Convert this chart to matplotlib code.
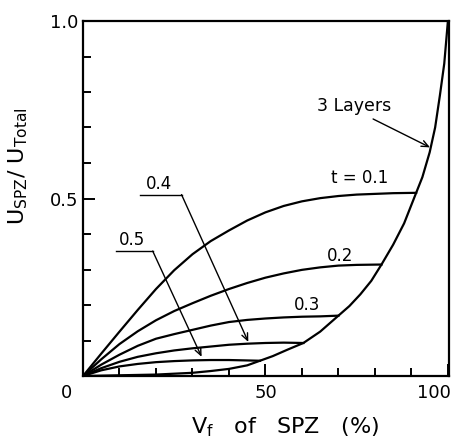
"""
Strain energy fraction stored in the SPZ layer vs its volume fraction,
for several layer thicknesses t, bounded by the 3-layer limit curve.
"""
import matplotlib.pyplot as plt
from matplotlib.ticker import MultipleLocator
from matplotlib.transforms import ScaledTranslation

# ── Data ──────────────────────────────────────────────────────────────────────
LAYER3_VF = [0, 10, 20, 30, 35, 40, 45, 48.5, 52, 56, 60.4, 65, 70, 73, 76,
             79, 81.8, 85, 88, 91.3, 93, 95, 96.5, 97.8, 99, 100]
LAYER3_U = [0, 0.002, 0.004, 0.009, 0.014, 0.020, 0.030, 0.043, 0.056, 0.074,
            0.093, 0.125, 0.170, 0.197, 0.230, 0.268, 0.314, 0.370, 0.430,
            0.516, 0.560, 0.630, 0.700, 0.790, 0.880, 1.0]

T_VALUES = [0.1, 0.2, 0.3, 0.4, 0.5]
T_VF = {
    0.1: [0, 5, 10, 15, 20, 25, 30, 35, 40, 45, 50, 55, 60, 65, 70, 75, 80,
          85, 91.3],
    0.2: [0, 5, 10, 15, 20, 25, 30, 35, 40, 45, 50, 55, 60, 65, 70, 75, 81.8],
    0.3: [0, 5, 10, 15, 20, 25, 30, 35, 40, 45, 50, 55, 60, 65, 70],
    0.4: [0, 5, 10, 15, 20, 25, 30, 35, 40, 45, 50, 55, 60.4],
    0.5: [0, 5, 10, 15, 20, 25, 30, 35, 40, 48.5],
}
T_U = {
    0.1: [0, 0.063, 0.125, 0.186, 0.245, 0.298, 0.343, 0.380, 0.410, 0.438,
          0.461, 0.479, 0.492, 0.501, 0.507, 0.511, 0.513, 0.515, 0.516],
    0.2: [0, 0.047, 0.090, 0.126, 0.157, 0.183, 0.205, 0.226, 0.245, 0.262,
          0.277, 0.289, 0.299, 0.306, 0.311, 0.313, 0.314],
    0.3: [0, 0.032, 0.06, 0.085, 0.105, 0.118, 0.13, 0.142, 0.152, 0.158,
          0.162, 0.165, 0.167, 0.168, 0.170],
    0.4: [0, 0.022, 0.04, 0.054, 0.064, 0.072, 0.078, 0.083, 0.088, 0.091,
          0.093, 0.094, 0.093],
    0.5: [0, 0.016, 0.027, 0.034, 0.039, 0.042, 0.044, 0.045, 0.045, 0.043],
}

LW = 1.6

plt.rcParams["font.family"] = "DejaVu Sans"
plt.rcParams["mathtext.fontset"] = "dejavusans"

fig = plt.figure(figsize=(4.64, 4.42), dpi=100)
ax = fig.add_axes([83 / 464, 66 / 442, 366 / 464, 355 / 442])

ax.plot(LAYER3_VF, LAYER3_U, color="black", lw=LW, solid_joinstyle="round")
for t in T_VALUES:
    ax.plot(T_VF[t], T_U[t], color="black", lw=LW, solid_joinstyle="round")

ax.set_xlim(0, 100.3)
ax.set_ylim(0, 1.0)

# ── axes frame and ticks ──────────────────────────────────────────────────────
for sp in ax.spines.values():
    sp.set_linewidth(1.6)
ax.xaxis.set_major_locator(MultipleLocator(50))
ax.xaxis.set_minor_locator(MultipleLocator(10))
ax.yaxis.set_major_locator(MultipleLocator(0.5))
ax.yaxis.set_minor_locator(MultipleLocator(0.1))
ax.tick_params(which="both", direction="in", width=1.4, top=False, right=False)
ax.tick_params(which="major", length=8.5, labelsize=13, pad=6)
ax.tick_params(axis="y", which="major", pad=3)
ax.tick_params(which="minor", length=5.5)
ax.set_xticks([0, 50, 100])
ax.set_xticklabels(["0", "50", "100"])
ax.set_yticks([0, 0.5, 1.0])
ax.set_yticklabels(["", "0.5", "1.0"])
xlabels = ax.get_xticklabels()
xlabels[0].set_transform(xlabels[0].get_transform() +
                         ScaledTranslation(-16 / 100, 0, fig.dpi_scale_trans))
xlabels[2].set_horizontalalignment("right")
xlabels[2].set_transform(xlabels[2].get_transform() +
                         ScaledTranslation(3 / 100, 0, fig.dpi_scale_trans))

ax.set_xlabel(r"V$_\mathregular{f}$   of   SPZ   (%)", fontsize=16)
ax.xaxis.set_label_coords(0.552, -0.112)
ax.set_ylabel(r"U$_\mathregular{SPZ}$/ U$_\mathregular{Total}$", fontsize=16)
ax.yaxis.set_label_coords(-0.145, 0.59)

# ── curve labels and leaders ──────────────────────────────────────────────────
txt = dict(fontsize=12, ha="center", va="center")
arrow = dict(arrowstyle="->,head_length=0.5,head_width=0.22", color="black",
             lw=1.0, shrinkA=0, shrinkB=0)

ax.text(74.2, 0.761, "3 Layers", **dict(txt, fontsize=12.5))
ax.annotate("", xy=(95.1, 0.644), xytext=(79.5, 0.724), arrowprops=arrow)
ax.text(75.9, 0.558, "t = 0.1", **txt)
ax.text(70.4, 0.337, "0.2", **txt)
ax.text(61.5, 0.200, "0.3", **txt)

ax.text(20.7, 0.540, "0.4", **txt)
ax.plot([15.6, 27.0], [0.511, 0.511], color="black", lw=1.0)
ax.annotate("", xy=(45.3, 0.096), xytext=(27.0, 0.511), arrowprops=arrow)

ax.text(13.3, 0.382, "0.5", **txt)
ax.plot([9.0, 19.1], [0.352, 0.352], color="black", lw=1.0)
ax.annotate("", xy=(32.5, 0.054), xytext=(19.1, 0.352), arrowprops=arrow)

fig.savefig("out.png", dpi=100)
plt.close(fig)
